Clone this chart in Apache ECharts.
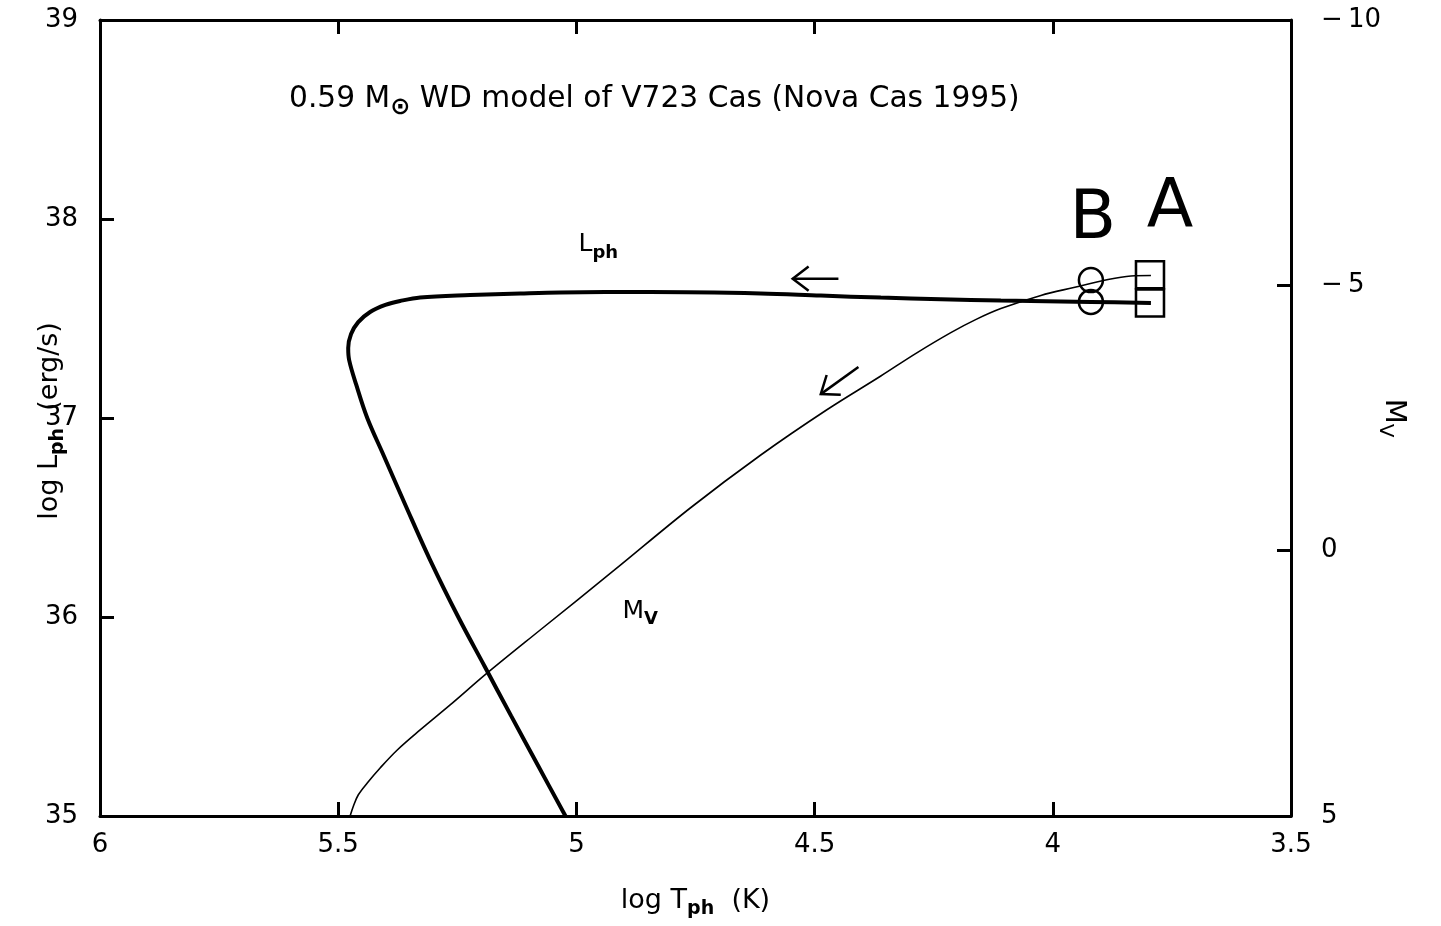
<!DOCTYPE html>
<html>
<head>
<meta charset="utf-8">
<script src="https://cdn.jsdelivr.net/npm/echarts@6/dist/echarts.min.js"></script>
<style>html,body{margin:0;padding:0;background:#fff}#c{width:1441px;height:926px}</style>
</head>
<body>
<div id="c"></div>
<script>
// ---- data ----
// L_ph track: log T_ph (K) and log L_ph (erg/s)
const lphT = [5.023, 5.080, 5.137, 5.193, 5.248, 5.307, 5.359, 5.405, 5.439, 5.462, 5.477, 5.479, 5.473, 5.458, 5.433, 5.401, 5.370, 5.328, 5.223, 5.118, 5.034, 4.845, 4.613, 4.487, 4.361, 4.235, 4.109, 3.920, 3.794];
const lphL = [35.000, 35.251, 35.503, 35.754, 36.000, 36.286, 36.563, 36.814, 37.000, 37.166, 37.291, 37.352, 37.422, 37.482, 37.533, 37.568, 37.588, 37.606, 37.618, 37.626, 37.631, 37.633, 37.626, 37.615, 37.605, 37.597, 37.590, 37.583, 37.578];
// M_V track: log T_ph (K) and absolute V magnitude
const mvT = [5.475, 5.468, 5.458, 5.439, 5.412, 5.376, 5.328, 5.265, 5.187, 5.076, 4.920, 4.761, 4.613, 4.475, 4.361, 4.288, 4.214, 4.162, 4.109, 4.025, 3.956, 3.884, 3.836, 3.794];
const mvM = [5.000, 4.811, 4.604, 4.378, 4.095, 3.756, 3.379, 2.908, 2.305, 1.495, 0.364, -0.804, -1.803, -2.651, -3.292, -3.714, -4.109, -4.354, -4.562, -4.810, -4.959, -5.110, -5.176, -5.185];
// Epoch markers B (circles) and A (squares)
const markerNames = ['B', 'A'];
const markerT = [3.920, 3.796];
const markerL = [37.583, 37.578];
const markerM = [-5.10, -5.20];
// Direction arrows [from, to]
const arrowLph = [[4.450, 37.70], [4.546, 37.70]];
const arrowMv = [[4.408, -3.46], [4.487, -2.95]];
// Tick settings
const xTicks = {min: 3.5, max: 6, interval: 0.5};
const yLTicks = {min: 35, max: 39, interval: 1};
const yRTicks = {min: -10, max: 5, interval: 5};
// Text labels positioned in data coordinates
const curveLabels = [
  {t: 4.954, l: 37.87, text: '{m|L}{s|ph}'},
  {t: 4.866, l: 36.03, text: '{m|M}{s|V}'}
];
const letterLabels = [
  {t: 3.916, l: 37.995, text: 'B'},
  {t: 3.754, l: 38.05, text: 'A'}
];
const titleText = '0.59 M{sun|⊙} WD model of V723 Cas (Nova Cas 1995)';

// ---- chart ----
const FONT = 'DejaVu Sans';
const chart = echarts.init(document.getElementById('c'), null, {renderer: 'canvas'});

const lphData = lphT.map((t, i) => [t, lphL[i]]);
const mvData = mvT.map((t, i) => [t, mvM[i]]);

function makeArrow(pts, yIdx) {
  return {
    type: 'custom',
    xAxisIndex: 0,
    yAxisIndex: yIdx,
    silent: true,
    data: [[pts[0][0], pts[0][1], pts[1][0], pts[1][1]]],
    renderItem: function (params, api) {
      const a = api.coord([api.value(0), api.value(1)]);
      const b = api.coord([api.value(2), api.value(3)]);
      const ang = Math.atan2(b[1] - a[1], b[0] - a[0]);
      const L = 20, h = 0.65;
      const h1 = [b[0] - L * Math.cos(ang - h), b[1] - L * Math.sin(ang - h)];
      const h2 = [b[0] - L * Math.cos(ang + h), b[1] - L * Math.sin(ang + h)];
      return {
        type: 'group',
        children: [
          {type: 'polyline', shape: {points: [a, b]}, style: {stroke: '#000', lineWidth: 2.5, fill: null}},
          {type: 'polyline', shape: {points: [h1, b, h2]}, style: {stroke: '#000', lineWidth: 2.5, fill: null}}
        ]
      };
    }
  };
}

const axisLineStyle = {onZero: false, lineStyle: {color: '#000', width: 3}};
const tickStyle = {inside: true, length: 14, lineStyle: {color: '#000', width: 3}};
const labelStyle = {color: '#000', fontFamily: FONT, fontSize: 26};
const hollow = {color: 'rgba(0,0,0,0)', borderColor: '#000', borderWidth: 2.5, opacity: 1};

const option = {
  backgroundColor: '#fff',
  animation: false,
  title: {
    text: titleText,
    left: 284,
    top: 73,
    textStyle: {
      color: '#000', fontFamily: FONT, fontSize: 29.7, fontWeight: 'normal',
      rich: {sun: {fontFamily: FONT, fontSize: 24, color: '#000', fontWeight: 'bold', padding: [18, 0, 0, 0]}}
    }
  },
  grid: {left: 100, right: 150, top: 20, bottom: 110, containLabel: false, outerBoundsMode: 'none'},
  xAxis: [
    {
      type: 'value', position: 'bottom', inverse: true,
      min: xTicks.min, max: xTicks.max, interval: xTicks.interval,
      axisLine: axisLineStyle, axisTick: tickStyle,
      axisLabel: Object.assign({margin: 16}, labelStyle),
      splitLine: {show: false},
      name: '{m|log T}{s|ph}{m|  (K)}',
      nameLocation: 'middle', nameGap: 66,
      nameTextStyle: {
        color: '#000', fontFamily: FONT, fontSize: 27,
        rich: {m: {fontFamily: FONT, fontSize: 27, color: '#000'}, s: {fontFamily: FONT, fontSize: 19, color: '#000', fontWeight: 'bold', padding: [18, 0, 0, 0]}}
      }
    },
    {
      type: 'value', position: 'top', inverse: true,
      min: xTicks.min, max: xTicks.max, interval: xTicks.interval,
      axisLine: axisLineStyle, axisTick: tickStyle,
      axisLabel: {show: false}, splitLine: {show: false}
    }
  ],
  yAxis: [
    {
      type: 'value', position: 'left',
      min: yLTicks.min, max: yLTicks.max, interval: yLTicks.interval,
      axisLine: axisLineStyle, axisTick: tickStyle,
      axisLabel: Object.assign({margin: 22}, labelStyle),
      splitLine: {show: false},
      name: '{m|log L}{s|ph}{m|  (erg/s)}',
      nameLocation: 'middle', nameGap: 32, nameRotate: 90, nameMoveOverlap: false,
      nameTextStyle: {
        color: '#000', fontFamily: FONT, fontSize: 27,
        padding: [0, 6, 0, 0],
        rich: {m: {fontFamily: FONT, fontSize: 27, color: '#000'}, s: {fontFamily: FONT, fontSize: 19, color: '#000', fontWeight: 'bold', padding: [18, 0, 0, 0]}}
      }
    },
    {
      type: 'value', position: 'right', inverse: true,
      min: yRTicks.min, max: yRTicks.max, interval: yRTicks.interval,
      axisLine: axisLineStyle, axisTick: tickStyle,
      axisLabel: Object.assign({margin: 30, formatter: v => String(v).replace('-', '\u2212\u2009')}, labelStyle),
      splitLine: {show: false},
      name: '{m|M}{s|V}',
      nameLocation: 'middle', nameGap: 84, nameRotate: -90, nameMoveOverlap: false,
      nameTextStyle: {
        color: '#000', fontFamily: FONT, fontSize: 29,
        rich: {m: {fontFamily: FONT, fontSize: 29, color: '#000'}, s: {fontFamily: FONT, fontSize: 20, color: '#000', padding: [18, 0, 0, 0]}}
      }
    }
  ],
  series: [
    {
      type: 'line', name: 'Lph', xAxisIndex: 0, yAxisIndex: 0,
      data: lphData, showSymbol: false, smooth: 0.35,
      lineStyle: {color: '#000', width: 4}, z: 3
    },
    {
      type: 'line', name: 'Mv', xAxisIndex: 0, yAxisIndex: 1,
      data: mvData, showSymbol: false, smooth: 0.35,
      lineStyle: {color: '#000', width: 1.6}, z: 3
    },
    {
      type: 'scatter', name: 'B_L', xAxisIndex: 0, yAxisIndex: 0,
      data: [[markerT[0], markerL[0]]], symbol: 'circle', symbolSize: 24,
      itemStyle: hollow, z: 4
    },
    {
      type: 'scatter', name: 'B_M', xAxisIndex: 0, yAxisIndex: 1,
      data: [[markerT[0], markerM[0]]], symbol: 'circle', symbolSize: 24,
      itemStyle: hollow, z: 4
    },
    {
      type: 'scatter', name: 'A_L', xAxisIndex: 0, yAxisIndex: 0,
      data: [[markerT[1], markerL[1]]], symbol: 'rect', symbolSize: [28, 27],
      itemStyle: hollow, z: 4
    },
    {
      type: 'scatter', name: 'A_M', xAxisIndex: 0, yAxisIndex: 1,
      data: [[markerT[1], markerM[1]]], symbol: 'rect', symbolSize: [28, 27],
      itemStyle: hollow, z: 4
    },
    makeArrow(arrowLph, 0),
    makeArrow(arrowMv, 1),
    {
      type: 'scatter', name: 'curveLabels', xAxisIndex: 0, yAxisIndex: 0,
      data: curveLabels.map(d => ({value: [d.t, d.l], text: d.text})),
      symbolSize: 0, silent: true, itemStyle: {opacity: 1},
      label: {
        show: true, position: 'inside', color: '#000',
        formatter: p => p.data.text,
        rich: {
          m: {fontFamily: FONT, fontSize: 25, color: '#000'},
          s: {fontFamily: FONT, fontSize: 18, color: '#000', fontWeight: 'bold', padding: [16, 0, 0, 0]}
        }
      }
    },
    {
      type: 'scatter', name: 'letters', xAxisIndex: 0, yAxisIndex: 0,
      data: letterLabels.map(d => ({value: [d.t, d.l], text: d.text})),
      symbolSize: 0, silent: true, itemStyle: {opacity: 1},
      label: {
        show: true, position: 'inside',
        formatter: p => p.data.text,
        fontFamily: FONT, fontSize: 68, color: '#000', fontWeight: 'normal'
      }
    }
  ]
};
chart.setOption(option);
</script>
</body>
</html>
